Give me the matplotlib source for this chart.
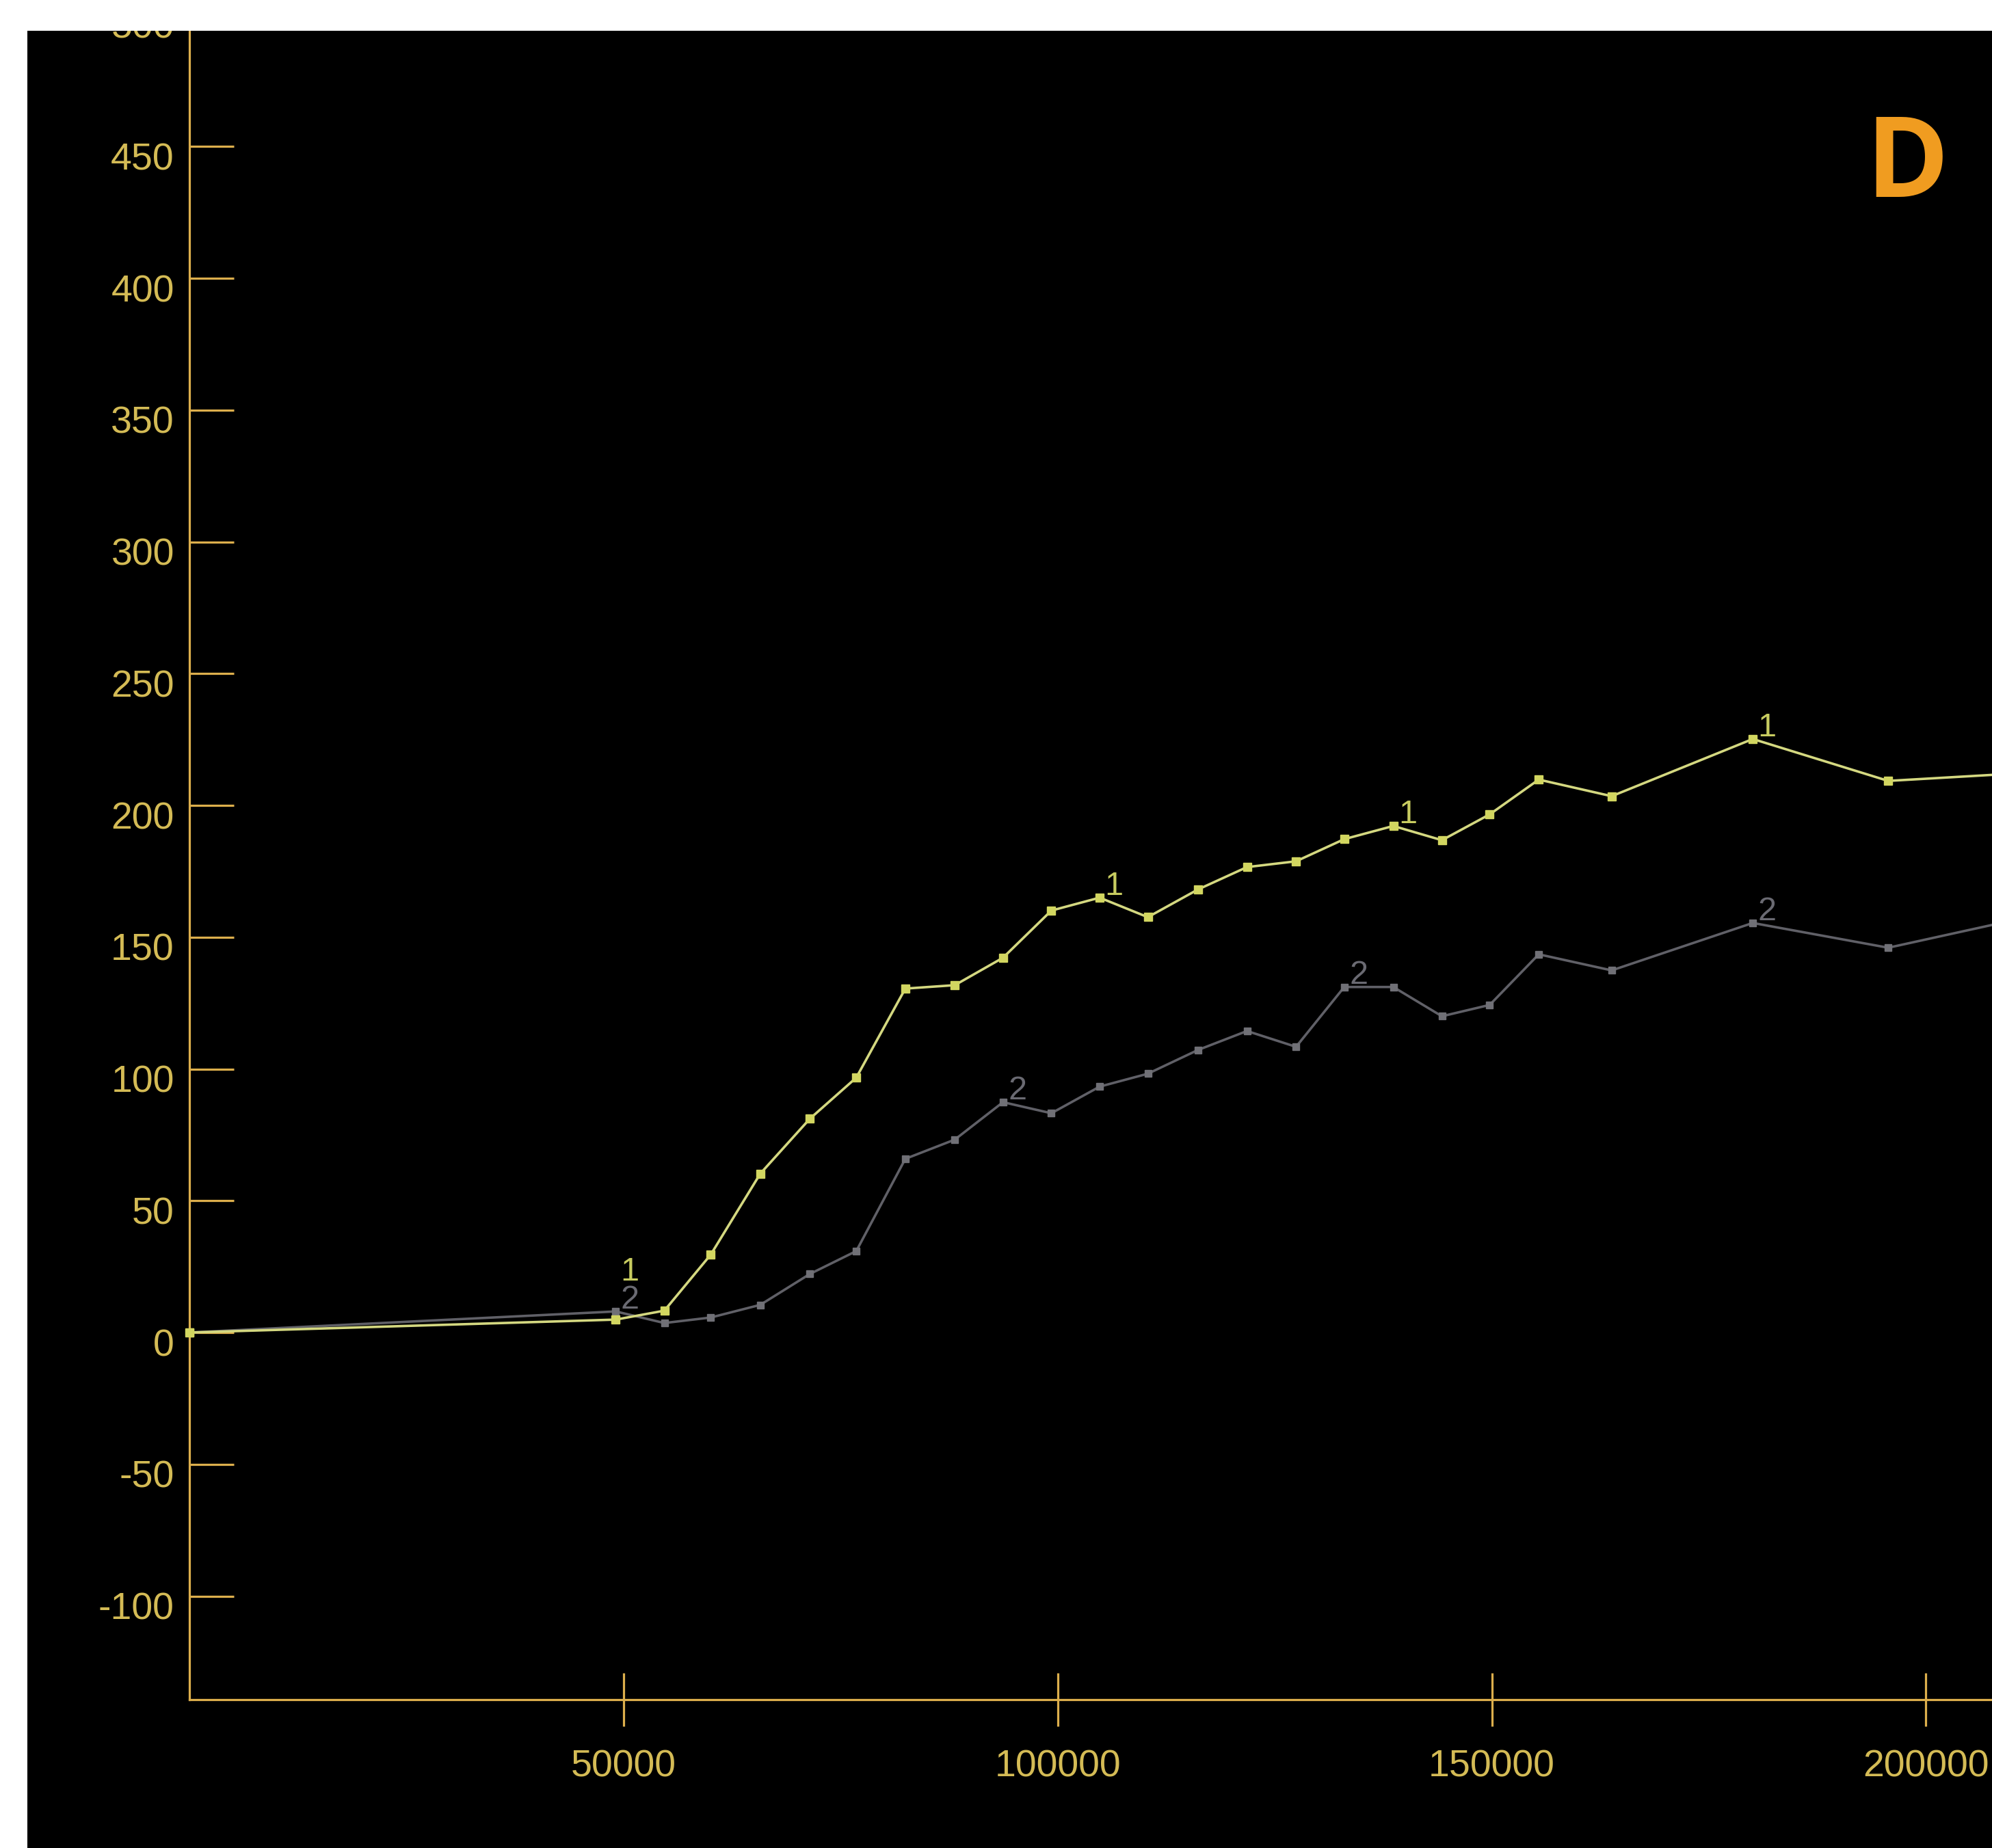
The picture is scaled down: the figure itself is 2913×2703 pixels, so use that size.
import matplotlib
matplotlib.use("Agg")
import matplotlib.pyplot as plt
from matplotlib.patches import Rectangle
from matplotlib.transforms import ScaledTranslation

# ---------------- data ----------------
x_values = [0, 49100, 54700, 60050, 65750, 71450, 76800, 82450, 88150, 93700,
            99270, 104830, 110380, 116150, 121800, 127450, 133000, 138650,
            144250, 149750, 155400, 163800, 180050, 195650, 215000]
series1 = [0, 4.9, 8.3, 29.6, 60.3, 81.1, 96.7, 130.5, 131.8, 142.2,
           160.1, 165.0, 157.6, 168.1, 176.6, 178.8, 187.2, 192.2,
           186.8, 196.6, 209.8, 203.5, 225.2, 209.3, 213.0]
series2 = [0, 8.0, 3.6, 5.7, 10.5, 22.2, 30.9, 65.9, 73.2, 87.4,
           83.2, 93.3, 98.2, 107.2, 114.4, 108.4, 131.1, 131.1,
           120.0, 124.3, 143.5, 137.4, 155.4, 146.0, 160.0]
series1_label = "1"
series2_label = "2"
series1_label_idx = [1, 11, 17, 22]
series2_label_idx = [1, 9, 16, 22]
y_ticks = [-100, -50, 0, 50, 100, 150, 200, 250, 300, 350, 400, 450, 500]
y_tick_labels = ["-100", "-50", "0", "50", "100", "150", "200", "250",
                 "300", "350", "400", "450", "500"]
x_ticks = [50000, 100000, 150000, 200000]
x_tick_labels = ["50000", "100000", "150000", "200000"]
panel_letter = "D"

# ---------------- style ----------------
W, H, DPI = 2913, 2703, 100
AXIS_C = "#dcae4c"
TEXT_C = "#d4bb55"
S1_LINE = "#d4d880"
S1_MARK = "#d2d660"
S1_TEXT = "#c8cc60"
S2_LINE = "#606067"
S2_MARK = "#707076"
S2_TEXT = "#6a6a72"

fig = plt.figure(figsize=(W / DPI, H / DPI), dpi=DPI, facecolor="white")

# black panel background (white border on top and left)
fig.patches.append(Rectangle((40 / W, 0), 1, 1, transform=fig.transFigure,
                             facecolor="black", edgecolor="none", zorder=-10))

left_px, bottom_px = 277, 2486
ax = fig.add_axes([left_px / W, (H - bottom_px) / H, 1 - left_px / W, bottom_px / H])
ax.set_facecolor("black")
ax.patch.set_alpha(0)

ax.set_xlim(0, 207600)
ax.set_ylim(-139.3, 505.6)

for side in ["top", "right"]:
    ax.spines[side].set_visible(False)
for side in ["left", "bottom"]:
    ax.spines[side].set_color(AXIS_C)
    ax.spines[side].set_linewidth(2.3)

ax.set_yticks(y_ticks)
ax.set_yticklabels(y_tick_labels)
ax.set_xticks(x_ticks)
ax.set_xticklabels(x_tick_labels)

ax.tick_params(axis="y", direction="in", length=47, width=2.3, color=AXIS_C,
               labelcolor=TEXT_C, labelsize=40, pad=16)
ax.tick_params(axis="x", direction="inout", length=56, width=2.3, color=AXIS_C,
               labelcolor=TEXT_C, labelsize=40, pad=24)
for lab in ax.get_yticklabels() + ax.get_xticklabels():
    lab.set_fontfamily("Liberation Sans")

# shift y tick labels slightly below their ticks, as in the reference
off = ScaledTranslation(0, -14 / DPI, fig.dpi_scale_trans)
for tick in ax.yaxis.get_major_ticks():
    tick.label1.set_transform(tick.label1.get_transform() + off)

ax.plot(x_values, series2, color=S2_LINE, lw=2.6, marker="s", markersize=7,
        markerfacecolor=S2_MARK, markeredgecolor=S2_MARK, clip_on=True, zorder=3)
ax.plot(x_values, series1, color=S1_LINE, lw=2.6, marker="s", markersize=8,
        markerfacecolor=S1_MARK, markeredgecolor=S1_MARK, clip_on=True, zorder=4)
# first point sits on the axis and is drawn whole in the reference
ax.plot(x_values[:1], series1[:1], ls="none", marker="s", markersize=8,
        markerfacecolor=S1_MARK, markeredgecolor=S1_MARK, clip_on=False, zorder=6)

# in-line series labels
for i in series2_label_idx:
    ax.annotate(series2_label, (x_values[i], series2[i]), xytext=(15, 12),
                textcoords="offset points", color=S2_TEXT, fontsize=35,
                fontfamily="Liberation Sans", ha="center", va="center", zorder=5)
for i in series1_label_idx:
    dy = 12
    if i in series2_label_idx and abs(series1[i] - series2[i]) < 15:
        dy = 50
    ax.annotate(series1_label, (x_values[i], series1[i]), xytext=(15, dy),
                textcoords="offset points", color=S1_TEXT, fontsize=35,
                fontfamily="Liberation Sans", ha="center", va="center", zorder=5)

# panel letter
fig.text(2789 / W, 1 - 245 / H, panel_letter, color="#f09c20", fontsize=118,
         fontweight="bold", fontfamily="Open Sans", ha="center", va="center")

# white top border drawn over everything
fig.patches.append(Rectangle((0, 1 - 45 / H), 1, 45 / H, transform=fig.transFigure,
                             facecolor="white", edgecolor="none", zorder=50))

fig.savefig("out.png", dpi=DPI, facecolor="white")
